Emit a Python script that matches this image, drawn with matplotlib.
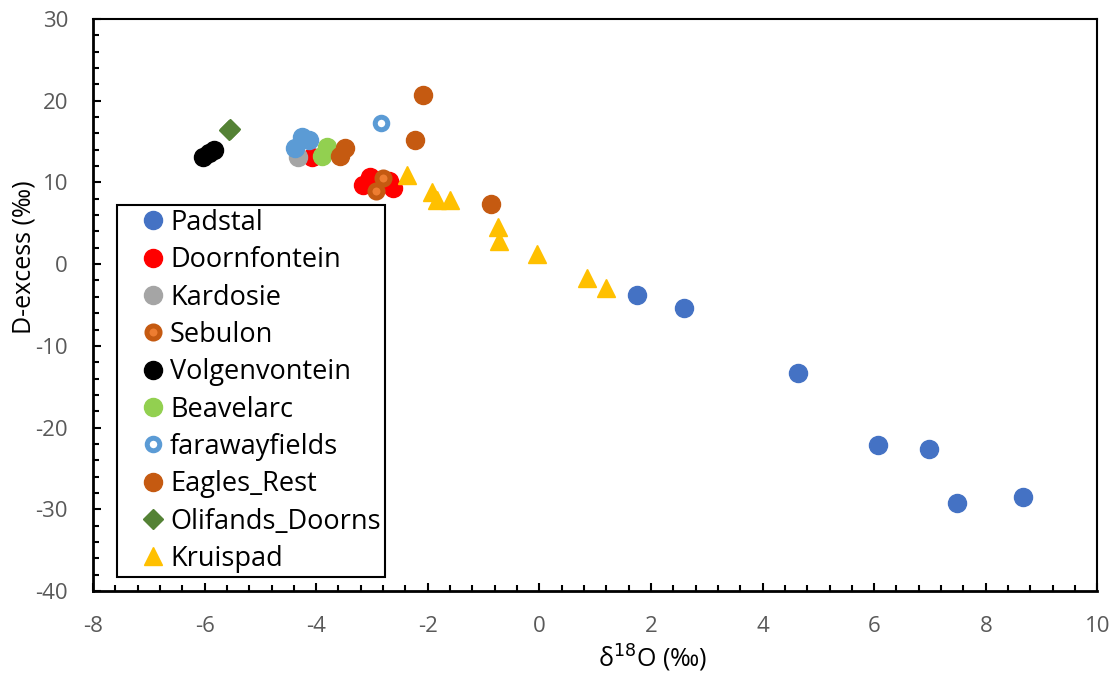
import matplotlib
matplotlib.use("Agg")
import matplotlib.pyplot as plt
from matplotlib.ticker import MultipleLocator

plt.rcParams['font.family'] = ['Open Sans', 'DejaVu Sans']
plt.rcParams['axes.unicode_minus'] = False

# ---- data ----
padstal_x = [1.75, 2.59, 4.63, 6.07, 6.98, 7.48, 8.67]
padstal_y = [-3.8, -5.4, -13.3, -22.1, -22.6, -29.2, -28.5]

doorn_x = [-3.16, -3.04, -2.62, -2.70, -4.08]
doorn_y = [9.7, 10.7, 9.3, 10.2, 13.1]

kardosie_x = [-4.32]
kardosie_y = [13.1]

sebulon_x = [-2.80, -2.92]
sebulon_y = [10.5, 8.9]

volgen_x = [-6.03, -5.92, -5.83]
volgen_y = [13.1, 13.6, 14.0]

beavelarc_x = [-3.81, -3.90]
beavelarc_y = [14.3, 13.2]

faraway_x = [-2.83]
faraway_y = [17.3]

# light-blue filled points (no legend entry)
lightblue_x = [-4.26, -4.38, -4.13]
lightblue_y = [15.6, 14.2, 15.2]

eagles_x = [-2.09, -2.23, -0.87, -3.49, -3.58]
eagles_y = [20.7, 15.2, 7.3, 14.2, 13.2]

olifands_x = [-5.57, -5.54]
olifands_y = [16.4, 16.5]

kruis_x = [-2.38, -1.92, -1.83, -1.60, -0.74, -0.72, -0.05, 0.85, 1.19]
kruis_y = [10.9, 8.8, 7.8, 7.9, 4.5, 2.8, 1.3, -1.7, -2.9]

xticks = [-8, -6, -4, -2, 0, 2, 4, 6, 8, 10]
yticks = [-40, -30, -20, -10, 0, 10, 20, 30]

fig = plt.figure(figsize=(11.16, 6.77), dpi=100)
ax = fig.add_axes([0.0833, 0.127, 0.9, 0.845])

ms = 13
ax.plot(padstal_x, padstal_y, 'o', ms=ms, color='#4472C4', mec='#4472C4', label='Padstal', zorder=3)
ax.plot(doorn_x, doorn_y, 'o', ms=ms, color='#FF0000', mec='#FF0000', label='Doornfontein', zorder=3)
ax.plot(kardosie_x, kardosie_y, 'o', ms=ms, color='#A5A5A5', mec='#A5A5A5', label='Kardosie', zorder=3)
ax.plot(sebulon_x, sebulon_y, 'o', ms=9.4, mfc='#ED7D31', mec='#C55A11', mew=3.6, label='Sebulon', zorder=3)
ax.plot(volgen_x, volgen_y, 'o', ms=ms, color='black', label='Volgenvontein', zorder=3)
ax.plot(beavelarc_x, beavelarc_y, 'o', ms=ms, color='#92D050', mec='#92D050', label='Beavelarc', zorder=3)
ax.plot(faraway_x, faraway_y, 'o', ms=9, mfc='white', mec='#5B9BD5', mew=3.6, label='farawayfields', zorder=3)
ax.plot(lightblue_x, lightblue_y, 'o', ms=ms, color='#5B9BD5', mec='#5B9BD5', label='_nolegend_', zorder=3)
ax.plot(eagles_x, eagles_y, 'o', ms=ms, color='#C55A11', mec='#C55A11', label='Eagles_Rest', zorder=3)
ax.plot(olifands_x, olifands_y, 'D', ms=10.5, color='#548235', mec='#548235', label='Olifands_Doorns', zorder=3)
ax.plot(kruis_x, kruis_y, '^', ms=12.5, color='#FFC000', mec='#FFC000', label='Kruispad', zorder=3)

ax.set_xlim(-8, 10)
ax.set_ylim(-40, 30)
ax.set_xticks(xticks)
ax.set_yticks(yticks)
ax.xaxis.set_minor_locator(MultipleLocator(0.4))
ax.yaxis.set_minor_locator(MultipleLocator(2))

for s in ax.spines.values():
    s.set_color('black')
    s.set_linewidth(1.5)
ax.spines['left'].set_linewidth(2)
ax.spines['bottom'].set_linewidth(2)

ax.tick_params(axis='both', which='major', direction='in', length=6, width=1.5,
               labelsize=16, labelcolor='#595959', color='black')
ax.tick_params(axis='both', which='minor', direction='in', length=4, width=1.5, color='black')
ax.tick_params(axis='x', which='major', pad=18)
ax.tick_params(axis='y', which='major', pad=18)

ax.set_xlabel('δ$^{18}$O (‰)', fontsize=18, color='black')
ax.set_ylabel('D-excess (‰)', fontsize=18, color='black')
ax.xaxis.set_label_coords(0.557, -0.09)
ax.yaxis.set_label_coords(-0.056, 0.584)

leg = ax.legend(loc='lower left', bbox_to_anchor=(0.024, 0.0245), fontsize=19.5,
                frameon=True, fancybox=False, edgecolor='black', framealpha=1,
                handletextpad=-0.55, labelspacing=0.345, borderpad=0.15, handlelength=2.35,
                borderaxespad=0)
leg.get_frame().set_linewidth(1.5)

fig.savefig('out.png', dpi=100)
